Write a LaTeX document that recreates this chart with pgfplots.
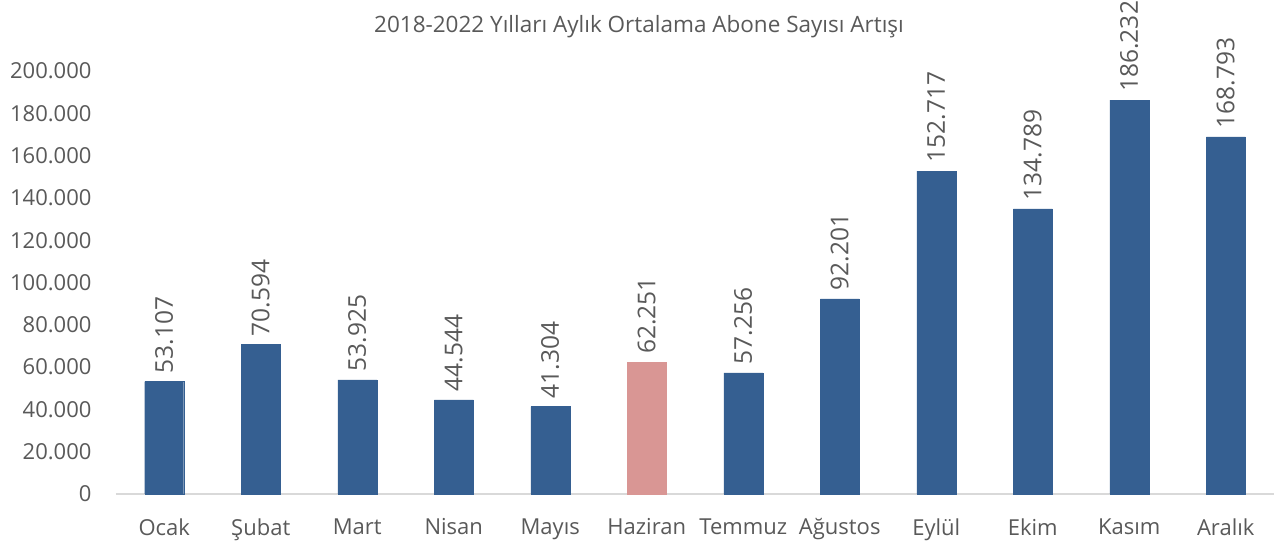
\documentclass[border=0pt]{standalone}
\usepackage{pgfplots}
\pgfplotsset{compat=1.18}
\usepackage{fontspec}
\setmainfont{Open Sans}
\definecolor{txt}{HTML}{595959}
\definecolor{barblue}{HTML}{355F91}
\definecolor{barpink}{HTML}{D99694}
\definecolor{axgray}{HTML}{D9D9D9}
\begin{document}
\begin{tikzpicture}
\path[use as bounding box] (-116pt,-52pt) rectangle (1162pt,494pt);
\begin{axis}[
    scale only axis,
    width=1158pt, height=423pt,
    ymin=0, ymax=200000,
    xmin=-0.5, xmax=11.5,
    clip=false,
    axis lines*=left,
    y axis line style={draw=none},
    x axis line style={draw=axgray, line width=1.2pt},
    major tick style={draw=none},
    ytick={0,20000,...,200000},
    scaled y ticks=false,
    xtick={0,...,11},
    xticklabels={Ocak,Şubat,Mart,Nisan,Mayıs,Haziran,Temmuz,Ağustos,Eylül,Ekim,Kasım,Aralık},
    /pgf/number format/.cd, fixed, precision=0, 1000 sep={.}, assume math mode=true,
    /pgfplots/.cd,
    tick label style={font=\fontsize{22}{26}\selectfont, text=txt},
    yticklabel style={xshift=-21pt},
    xticklabel style={yshift=-21pt},
    nodes near coords,
    every node near coord/.append style={rotate=90, anchor=west, font=\fontsize{24.5}{28}\selectfont, text=txt, xshift=5pt},
]
\addplot[ybar, bar width=39pt, bar shift=0pt, fill=barblue, draw=barblue] coordinates {
    (0,53107) (1,70594) (2,53925) (3,44544) (4,41304)
    (6,57256) (7,92201) (8,152717) (9,134789) (10,186232) (11,168793)
};
\addplot[ybar, bar width=39pt, bar shift=0pt, fill=barpink, draw=barpink] coordinates {
    (5,62251)
};
\end{axis}
\node[text=txt, font=\fontsize{22.5}{26}\selectfont] at (523pt,467pt) {2018-2022 Yılları Aylık Ortalama Abone Sayısı Artışı};
\end{tikzpicture}
\end{document}
